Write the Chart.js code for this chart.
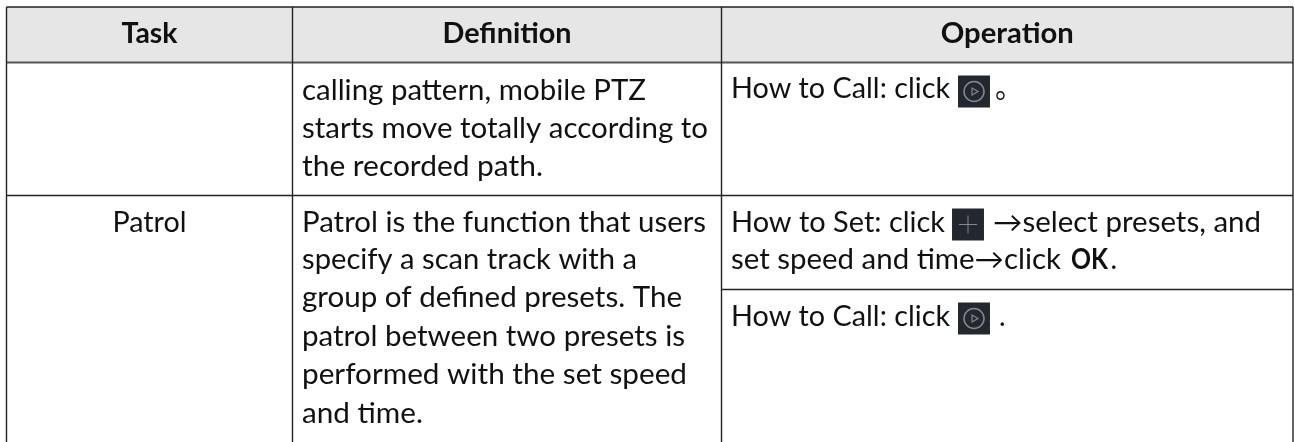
<!DOCTYPE html>
<html lang="en">
<head>
<meta charset="UTF-8">
<title>Task table</title>
<script src="https://cdn.jsdelivr.net/npm/chart.js"></script>
<style>
    body { margin: 0; background: #fff; }
    canvas { display: block; }
</style>
</head>
<body>
<canvas id="tableChart" width="1294" height="442"></canvas>
<script>
// Table content
const headers = ['Task', 'Definition', 'Operation'];
const taskLabels = ['Patrol'];
const definitionLines = [
    'calling pattern, mobile PTZ',
    'starts move totally according to',
    'the recorded path.',
    'Patrol is the function that users',
    'specify a scan track with a',
    'group of defined presets. The',
    'patrol between two presets is',
    'performed with the set speed',
    'and time.'
];
// one entry per run of text in the Operation column
const operationRuns = [
    'How to Call: click', '。',
    'How to Set: click', '→select presets, and',
    'set speed and time→click', 'OK', '.',
    'How to Call: click', '.'
];

// Table grid, in picture units
const columnEdges = [6.5, 292.5, 721.5, 1293];
const tableTop = 7;
const tableBottom = 442;
const fullRowLines = [7, 62.5, 195.5];
const operationRowLine = 289.5;

// Layout of the text
const headerBaseline = 42.5;
const headerWidths = [56, 129, 133];
const patrolBaseline = 231.5;
const patrolWidth = 74;
const definitionX = 302;
const definitionBaselines = [100, 138, 176, 231.5, 269, 307, 346, 384, 423];
const definitionWidths = [344, 406, 241, 404, 335, 380, 383, 385, 121];
const operationX = [731, 995, 731, 993, 731, 1071, 1110.5, 731, 999];
const operationBaselines = [98, 98, 231.5, 231.5, 269, 269, 269, 326, 326];
const operationWidths = [219, 0, 214, 268, 330, 37, 0, 219, 0];
const operationBold = [false, false, false, false, false, true, false, false, false];
const fontSize = 28;

// Icon buttons: centres of the dark squares
const playIconX = [974, 974];
const playIconY = [91.5, 318.5];
const plusIconX = [968];
const plusIconY = [224.5];

const lineDataset = (points, color, width) => ({
    type: 'scatter',
    data: points,
    showLine: true,
    borderColor: color,
    borderWidth: width,
    pointRadius: 0,
    fill: false
});

const markerDataset = (xs, ys, style, radius, options) => ({
    type: 'scatter',
    data: xs.map((x, i) => ({ x: x, y: ys[i] })),
    pointStyle: style,
    pointRadius: radius,
    ...options
});

const datasets = [];

// header band
datasets.push({
    type: 'line',
    data: [{ x: columnEdges[0], y: tableTop }, { x: columnEdges[3], y: tableTop }],
    fill: { value: fullRowLines[1] },
    backgroundColor: '#e6e6e6',
    borderWidth: 0,
    pointRadius: 0,
    order: 10
});

columnEdges.forEach(x => {
    datasets.push({ ...lineDataset([{ x: x, y: tableTop }, { x: x, y: tableBottom }], '#222', 1.4), order: 5 });
});
fullRowLines.forEach((y, i) => {
    datasets.push({ ...lineDataset([{ x: columnEdges[0], y: y }, { x: columnEdges[3], y: y }], i === 1 ? '#555' : '#222', i === 1 ? 2 : 1.4), order: 5 });
});
datasets.push({ ...lineDataset([{ x: columnEdges[2], y: operationRowLine }, { x: columnEdges[3], y: operationRowLine }], '#222', 1.4), order: 5 });

// dark button squares (a rect point is radius * sqrt(2) wide)
datasets.push({ ...markerDataset(playIconX, playIconY, 'rect', 22.6, { backgroundColor: '#23272e', borderWidth: 0 }), order: 4 });
datasets.push({ ...markerDataset(plusIconX, plusIconY, 'rect', 22.6, { backgroundColor: '#23272e', borderWidth: 0 }), order: 4 });
// play glyph
datasets.push({ ...markerDataset(playIconX, playIconY, 'circle', 10, { backgroundColor: 'rgba(0,0,0,0)', borderColor: '#85888c', borderWidth: 1.5 }), order: 3 });
datasets.push({ ...markerDataset(playIconX, playIconY, 'triangle', 4, { backgroundColor: 'rgba(0,0,0,0)', borderColor: '#85888c', borderWidth: 1.2, rotation: 90 }), order: 3 });
// plus glyph
datasets.push({ ...markerDataset(plusIconX, plusIconY, 'cross', 9, { borderColor: '#85888c', borderWidth: 1 }), order: 3 });

const tableText = {
    id: 'tableText',
    afterDatasetsDraw(chart) {
        const ctx = chart.ctx;
        const sx = chart.scales.x;
        const sy = chart.scales.y;
        // draws one run, squeezed or stretched to the width
        const put = (text, x, y, width, bold, centered) => {
            ctx.save();
            ctx.font = (bold ? 'bold ' : '') + fontSize + 'px Lato, "Noto Sans CJK SC", sans-serif';
            ctx.fillStyle = '#111';
            ctx.textBaseline = 'alphabetic';
            const stretch = width ? width / ctx.measureText(text).width : 1;
            ctx.translate(sx.getPixelForValue(x), sy.getPixelForValue(y));
            ctx.scale(stretch, 1);
            ctx.textAlign = centered ? 'center' : 'left';
            ctx.fillText(text, 0, 0);
            ctx.restore();
        };
        headers.forEach((h, i) => {
            put(h, (columnEdges[i] + columnEdges[i + 1]) / 2, headerBaseline, headerWidths[i], true, true);
        });
        put(taskLabels[0], (columnEdges[0] + columnEdges[1]) / 2, patrolBaseline, patrolWidth, false, true);
        definitionLines.forEach((l, i) => put(l, definitionX, definitionBaselines[i], definitionWidths[i], false, false));
        operationRuns.forEach((r, i) => put(r, operationX[i], operationBaselines[i], operationWidths[i], operationBold[i], false));
    }
};

new Chart(document.getElementById('tableChart'), {
    type: 'scatter',
    data: { datasets: datasets },
    options: {
        responsive: false,
        animation: false,
        events: [],
        layout: { padding: 0, autoPadding: false },
        plugins: { legend: { display: false }, tooltip: { enabled: false } },
        scales: {
            x: { type: 'linear', min: 0, max: 1294, display: false },
            y: { type: 'linear', min: 0, max: 442, reverse: true, display: false }
        }
    },
    plugins: [tableText]
});
</script>
</body>
</html>
